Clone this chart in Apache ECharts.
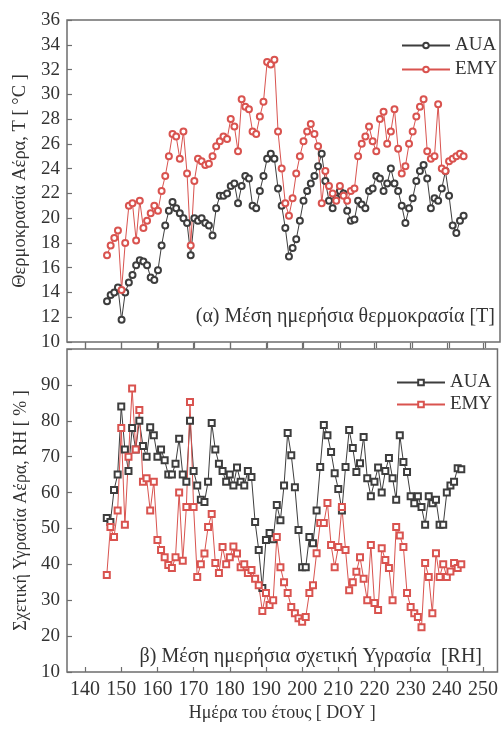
<!DOCTYPE html>
<html>
<head>
<meta charset="utf-8">
<title>AUA - EMY</title>
<script src="https://cdn.jsdelivr.net/npm/echarts@6/dist/echarts.min.js"></script>
<style>
  html, body { margin: 0; padding: 0; background: #fff; }
  #chart { width: 501px; height: 729px; }
</style>
</head>
<body>
<div id="chart"></div>
<script>
// Ημέρα του έτους (DOY)
var days = [146,147,148,149,150,151,152,153,154,155,156,157,158,159,160,161,162,163,164,165,
  166,167,168,169,170,171,172,173,174,175,176,177,178,179,180,181,182,183,184,185,
  186,187,188,189,190,191,192,193,194,195,196,197,198,199,200,201,202,203,204,205,
  206,207,208,209,210,211,212,213,214,215,216,217,218,219,220,221,222,223,224,225,
  226,227,228,229,230,231,232,233,234,235,236,237,238,239,240,241,242,243,244];

// (α) Μέση ημερήσια θερμοκρασία
var tempAUA = [13.3,13.8,14.0,14.4,11.8,14.0,14.8,15.4,16.2,16.6,16.5,16.2,15.2,15.0,15.8,17.8,19.4,20.6,21.3,20.8,
  20.4,20.0,19.6,17.0,20.0,19.8,20.0,19.6,19.4,18.6,20.8,21.8,21.8,22.0,22.6,22.8,21.2,22.6,23.4,23.2,
  21.0,20.8,22.2,23.4,24.8,25.2,24.8,22.4,21.0,19.2,16.9,17.6,18.3,19.8,21.4,22.2,22.8,23.4,24.2,25.2,
  23.0,21.4,20.8,21.6,22.2,22.0,20.6,19.8,19.9,21.4,21.1,20.8,22.2,22.4,23.4,23.2,22.2,22.8,24.0,22.8,
  22.2,21.0,19.6,20.8,21.6,23.0,23.8,24.3,23.2,20.8,21.6,21.4,22.4,23.8,21.8,19.4,18.8,19.8,20.2];
var tempEMY = [17.0,17.8,18.4,19.0,14.2,18.0,21.0,21.2,18.2,21.4,19.2,19.8,20.4,21.0,20.6,22.2,23.4,25.0,26.8,26.6,
  24.8,27.0,23.6,17.8,23.0,24.8,24.6,24.3,24.4,25.0,25.8,26.2,26.6,26.4,28.0,27.4,25.4,29.6,29.0,28.8,
  27.0,26.8,28.2,29.4,32.6,32.4,32.8,27.0,24.0,21.2,20.2,21.6,23.6,25.0,26.2,27.0,27.6,26.8,25.8,21.2,
  23.8,22.6,22.0,21.4,22.6,21.8,21.4,22.2,22.4,25.0,26.0,26.6,27.4,26.2,25.4,28.0,28.6,26.0,27.0,28.8,
  25.6,23.6,24.2,26.0,27.0,28.2,29.0,29.6,25.4,24.8,25.0,29.2,24.0,23.8,24.6,24.8,25.0,25.2,25.0];

// (β) Μέση ημερήσια σχετική υγρασία
var rhAUA = [52.9,51.8,60.7,65.0,84.0,72.0,66.0,78.0,72.0,80.0,73.0,70.0,78.2,76.0,70.0,72.0,69.0,65.0,65.0,68.0,
  75.0,65.0,63.0,80.0,66.0,62.0,58.0,57.4,63.0,79.4,72.0,68.0,66.0,63.0,65.0,62.0,67.0,63.0,62.0,66.0,
  64.3,51.8,44.0,33.4,46.8,48.7,47.0,56.5,52.3,62.0,76.6,70.4,61.5,49.6,39.2,39.2,47.6,45.9,55.0,67.1,
  78.8,76.0,71.3,65.4,61.0,55.0,67.1,77.4,72.4,65.7,68.2,75.5,64.0,59.0,63.0,67.0,60.0,66.0,69.6,64.0,
  58.0,76.0,68.5,65.7,59.0,57.0,59.0,56.0,51.0,59.0,57.0,58.0,51.0,51.0,60.0,62.0,63.0,66.8,66.5];
var rhEMY = [37.0,50.4,47.6,55.0,78.0,51.0,70.0,89.0,72.0,83.0,63.0,64.0,55.0,63.0,46.8,44.0,42.0,39.8,39.0,42.0,
  60.0,41.0,56.0,85.2,56.0,36.5,40.0,43.0,50.4,54.0,40.4,37.6,44.8,40.0,42.0,45.0,43.0,39.2,40.0,37.6,
  38.4,36.0,34.2,27.0,32.0,28.7,30.0,47.6,39.2,35.0,32.0,28.1,26.4,25.0,24.0,25.3,32.0,34.2,43.1,51.5,
  51.5,57.1,45.4,39.2,44.8,56.0,44.0,32.8,35.0,37.9,42.0,36.0,30.0,45.4,29.2,27.3,44.5,41.2,39.0,30.0,
  50.4,48.0,44.8,32.0,28.1,26.4,25.3,22.5,40.4,36.5,26.4,43.1,36.5,40.0,36.5,38.0,40.4,39.0,40.0];

var xTicks = [140,150,160,170,180,190,200,210,220,230,240,250];

var colorAUA = '#3d3d3d';
var colorEMY = '#d9534f';
var frameColor = '#6e6e6e';
var serif = 'Liberation Serif';

function toPairs(values) {
  return values.map(function (v, i) { return [days[i], v]; });
}

function lineSeries(name, values, color, symbol, xi, yi) {
  return {
    name: name,
    type: 'line',
    xAxisIndex: xi,
    yAxisIndex: yi,
    data: toPairs(values),
    symbol: symbol,
    symbolSize: 6,
    showAllSymbol: true,
    color: color,
    lineStyle: { color: color, width: 1 },
    itemStyle: { color: color, borderWidth: 1 }
  };
}

var tickStyle = { inside: true, length: 5, lineStyle: { color: frameColor, width: 1.2 } };
var labelStyle = { color: '#333', fontFamily: serif, fontSize: 19 };

var myChart = echarts.init(document.getElementById('chart'));

myChart.setOption({
  animation: false,
  backgroundColor: '#fff',
  grid: [
    { left: 67, top: 20, width: 433, height: 322, show: true, borderColor: frameColor, borderWidth: 1.5 },
    { left: 67, top: 349, width: 433, height: 323, show: true, borderColor: frameColor, borderWidth: 1.5 }
  ],
  xAxis: [
    {
      gridIndex: 0, type: 'value', min: 135, max: 254,
      axisLine: { show: false },
      axisTick: Object.assign({ customValues: xTicks }, tickStyle, { inside: false, length: 6 }),
      axisLabel: { show: false },
      splitLine: { show: false }
    },
    {
      gridIndex: 1, type: 'value', min: 135, max: 254,
      axisLine: { show: false },
      axisTick: Object.assign({ customValues: xTicks }, tickStyle),
      axisLabel: Object.assign({ customValues: xTicks, margin: 8 }, labelStyle, { fontSize: 20 }),
      splitLine: { show: false },
      name: 'Ημέρα του έτους [ DOY ]',
      nameLocation: 'middle',
      nameGap: 32,
      nameTextStyle: { color: '#333', fontFamily: serif, fontSize: 18 }
    },
    {
      gridIndex: 1, type: 'value', min: 135, max: 254, position: 'top',
      axisLine: { show: false },
      axisTick: Object.assign({ customValues: xTicks }, tickStyle, { inside: false, length: 6 }),
      axisLabel: { show: false },
      splitLine: { show: false }
    }
  ],
  yAxis: [
    {
      gridIndex: 0, type: 'value', min: 10, max: 36, interval: 2,
      axisLine: { show: false },
      axisTick: tickStyle,
      axisLabel: Object.assign({ margin: 7 }, labelStyle),
      splitLine: { show: false },
      name: 'Θερμοκρασία Αέρα, T [ °C ]',
      nameLocation: 'middle',
      nameGap: 37,
      nameTextStyle: { color: '#333', fontFamily: serif, fontSize: 18.5 }
    },
    {
      gridIndex: 1, type: 'value', min: 10, max: 100, interval: 10,
      axisLine: { show: false },
      axisTick: tickStyle,
      axisLabel: Object.assign({
        margin: 7,
        formatter: function (v) { return v === 100 ? '' : v; }
      }, labelStyle),
      splitLine: { show: false },
      name: 'Σχετική Υγρασία Αέρα, RH [ % ]',
      nameLocation: 'middle',
      nameGap: 37,
      nameTextStyle: { color: '#333', fontFamily: serif, fontSize: 18 }
    }
  ],
  legend: [
    {
      data: ['AUA', 'EMY'],
      orient: 'vertical', left: 396, top: 31,
      itemWidth: 48, itemHeight: 7, itemGap: 5,
      textStyle: { color: '#333', fontFamily: serif, fontSize: 19 }
    },
    {
      data: ['AUA RH', 'EMY RH'],
      orient: 'vertical', left: 391, top: 368,
      itemWidth: 48, itemHeight: 7, itemGap: 3,
      formatter: function (name) { return name.split(' ')[0]; },
      textStyle: { color: '#333', fontFamily: serif, fontSize: 19 }
    }
  ],
  graphic: [
    {
      type: 'text', right: 6, top: 307,
      style: { text: '(α) Μέση ημερήσια θερμοκρασία [T]', fill: '#333', font: '20px "Liberation Serif"' }
    },
    {
      type: 'text', right: 19, top: 647,
      style: { text: 'β) Μέση ημερήσια σχετική Υγρασία  [RH]', fill: '#333', font: '20px "Liberation Serif"' }
    }
  ],
  series: [
    lineSeries('AUA', tempAUA, colorAUA, 'emptyCircle', 0, 0),
    lineSeries('EMY', tempEMY, colorEMY, 'emptyCircle', 0, 0),
    lineSeries('AUA RH', rhAUA, colorAUA, 'emptyRect', 1, 1),
    lineSeries('EMY RH', rhEMY, colorEMY, 'emptyRect', 1, 1)
  ]
});
</script>
</body>
</html>
